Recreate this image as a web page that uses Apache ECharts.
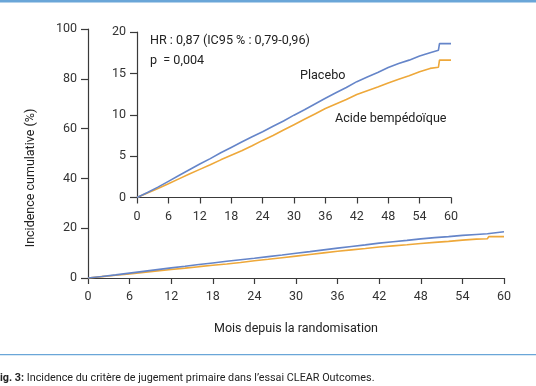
<!DOCTYPE html>
<html><head><meta charset="utf-8">
<script src="https://cdn.jsdelivr.net/npm/echarts@6/dist/echarts.min.js"></script>
<style>html,body{margin:0;padding:0;background:#fff}#c{width:536px;height:386px}</style>
</head><body><div id="c"></div>
<script>
const months = [0,2,4,6,8,10,12,14,16,18,20,22,24,26,28,30,32,34,36,38,40,42,44,46,48,50,52,54,56,57.6,57.8,60];
const placebo = [0,0.6,1.25,1.95,2.65,3.35,4.05,4.7,5.4,6.05,6.7,7.35,7.95,8.6,9.25,9.95,10.6,11.3,12.0,12.65,13.3,14.0,14.55,15.1,15.7,16.2,16.6,17.1,17.5,17.8,18.6,18.6];
const acide = [0,0.55,1.1,1.65,2.25,2.85,3.4,3.95,4.55,5.1,5.65,6.25,6.9,7.5,8.15,8.8,9.45,10.1,10.75,11.3,11.85,12.45,12.9,13.35,13.85,14.3,14.7,15.2,15.6,15.75,16.6,16.6];
const xTicks = [0,6,12,18,24,30,36,42,48,54,60];
const mainYTicks = [0,20,40,60,80,100];
const insetYTicks = [0,5,10,15,20];

const FONT = 'Roboto';
const AX = '#3a3a3a';
const BLUE = '#6585c9';
const ORANGE = '#eea83a';
const pairs = (ys) => months.map((m,i)=>[m, ys[i]]);

function xAxis(gridIndex, margin, name){
  return {
    type:'value', gridIndex, min:0, max:60, interval:6,
    axisLine:{show:true, lineStyle:{color:AX, width:1.2}},
    axisTick:{show:true, length:6, lineStyle:{color:AX, width:1.2}},
    axisLabel:{color:'#333', fontFamily:FONT, fontSize:12.5, margin},
    splitLine:{show:false},
    name: name || '', nameLocation:'middle', nameGap:44,
    nameTextStyle:{color:'#222', fontFamily:FONT, fontSize:12.5}
  };
}
function yAxis(gridIndex, max, interval){
  return {
    type:'value', gridIndex, min:0, max, interval,
    axisLine:{show:true, lineStyle:{color:AX, width:1.2}},
    axisTick:{show:true, length:7, lineStyle:{color:AX, width:1.2}},
    axisLabel:{color:'#333', fontFamily:FONT, fontSize:12.5, margin:11},
    splitLine:{show:false}
  };
}
function line(xi, data, color){
  return {type:'line', xAxisIndex:xi, yAxisIndex:xi, data, showSymbol:false, symbol:'none',
    lineStyle:{color, width:1.6}, itemStyle:{color}, animation:false, silent:true};
}

const chart = echarts.init(document.getElementById('c'), null, {renderer:'canvas'});
chart.setOption({
  animation:false,
  backgroundColor:'#fff',
  grid:[
    {left:88, right:32, top:29, bottom:108},
    {left:137, right:85, top:32, bottom:188.5}
  ],
  xAxis:[xAxis(0, 12, 'Mois depuis la randomisation'), xAxis(1, 13)],
  yAxis:[yAxis(0, 100, 20), yAxis(1, 20, 5)],
  series:[
    line(0, pairs(acide), ORANGE),
    line(0, pairs(placebo), BLUE),
    line(1, pairs(acide), ORANGE),
    line(1, pairs(placebo), BLUE)
  ],
  graphic:[
    {type:'rect', shape:{x:0,y:0,width:536,height:2.5}, style:{fill:'#6aa6d8'}},
    {type:'rect', shape:{x:0,y:354,width:536,height:1.2}, style:{fill:'#6aa6d8'}},
    {type:'text', x:31, y:178, rotation:Math.PI/2, style:{text:'Incidence cumulative (%)', fill:'#222', font:'12.5px '+FONT, align:'center', verticalAlign:'middle'}},
    {type:'text', left:150, top:34, style:{text:'HR : 0,87 (IC95 % : 0,79-0,96)', fill:'#222', font:'12.6px '+FONT}},
    {type:'text', left:150, top:54, style:{text:'p  = 0,004', fill:'#222', font:'12.6px '+FONT}},
    {type:'text', left:300, top:69, style:{text:'Placebo', fill:'#222', font:'12.6px '+FONT}},
    {type:'text', left:335, top:112, style:{text:'Acide bempédoïque', fill:'#222', font:'12.6px '+FONT}},
    {type:'text', left:0, top:373, style:{
      text:'{b|ig. 3:} Incidence du critère de jugement primaire dans l\u2019essai CLEAR Outcomes.',
      fill:'#222', font:'10.8px '+FONT,
      rich:{b:{fontWeight:'bold', fontSize:10.8, fontFamily:FONT, fill:'#222'}}
    }}
  ]
});
</script></body></html>
